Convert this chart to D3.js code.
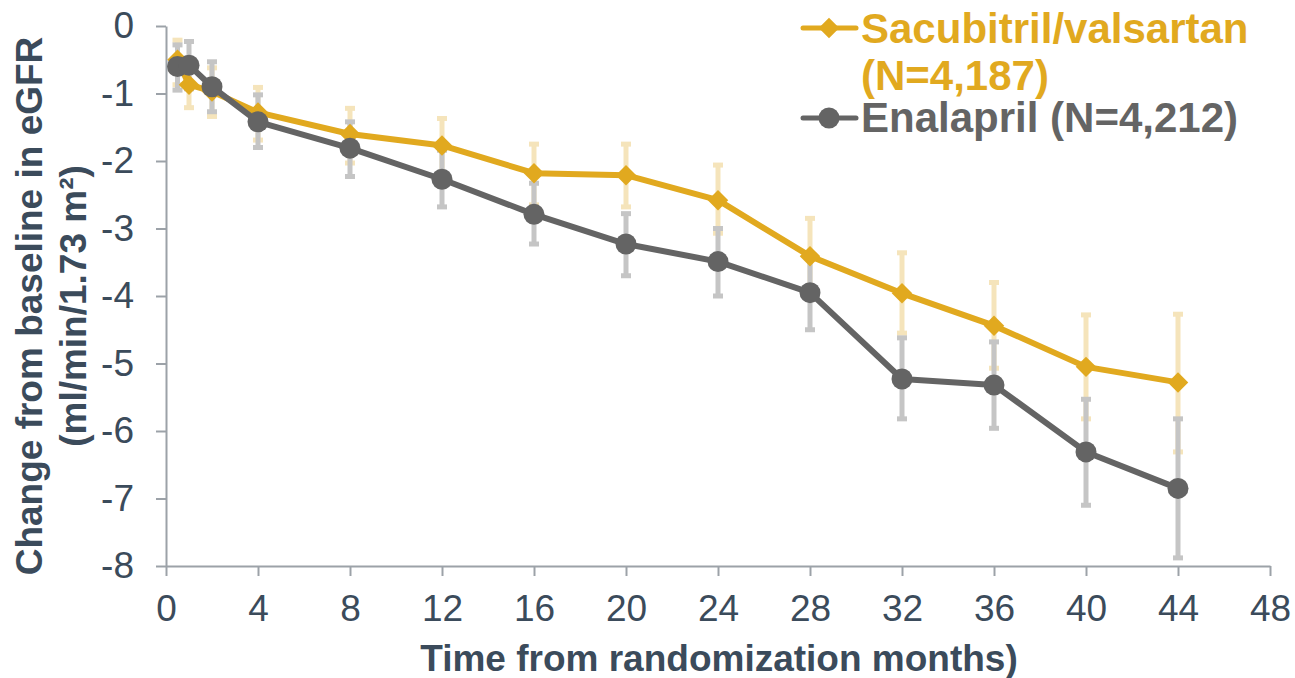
<!DOCTYPE html>
<html lang="en">
<head>
  <meta charset="UTF-8">
  <title>eGFR change over time</title>
  <style>
  body {
    margin: 0;
    background: white;
  }
  svg {
    font-family: "Liberation Sans", Arial, sans-serif;
  }
  </style>
</head>
<body>
  <svg></svg>

  <script src="https://d3js.org/d3.v7.min.js"></script>
  <script>
  // months after randomization
  var months = [0.5, 1, 2, 4, 8, 12, 16, 20, 24, 28, 32, 36, 40, 44];

  // sacubitril/valsartan: mean change and error bar ends
  var sacMean = [-0.50, -0.87, -0.97, -1.28, -1.60, -1.77, -2.18, -2.21, -2.58, -3.41, -3.96, -4.44, -5.05, -5.28];
  var sacUpper = [-0.21, -0.53, -0.62, -0.91, -1.22, -1.37, -1.75, -1.75, -2.06, -2.85, -3.36, -3.80, -4.28, -4.27];
  var sacLower = [-0.87, -1.21, -1.34, -1.69, -2.03, -2.17, -2.65, -2.68, -3.07, -3.97, -4.55, -5.07, -5.82, -6.31];

  // enalapril
  var enaMean = [-0.60, -0.58, -0.90, -1.42, -1.81, -2.27, -2.79, -3.23, -3.49, -3.95, -5.23, -5.32, -6.31, -6.85];
  var enaUpper = [-0.28, -0.23, -0.53, -1.02, -1.42, -1.84, -2.33, -2.78, -3.00, -3.40, -4.62, -4.68, -5.53, -5.82];
  var enaLower = [-0.95, -0.93, -1.27, -1.80, -2.23, -2.68, -3.23, -3.70, -4.00, -4.50, -5.82, -5.96, -7.10, -7.88];

  var xTicks = [0, 4, 8, 12, 16, 20, 24, 28, 32, 36, 40, 44, 48];
  var yTicks = [0, -1, -2, -3, -4, -5, -6, -7, -8];

  var width = 1295;
  var height = 678;
  var axisColor = "#9ca2a8";
  var textColor = "#3b4b5b";

  var series = [
    { name: "Sacubitril/valsartan", n: "(N=4,187)", mean: sacMean, upper: sacUpper, lower: sacLower,
      color: "#e1a91f", barColor: "#f5e4bb", marker: "diamond" },
    { name: "Enalapril (N=4,212)", mean: enaMean, upper: enaUpper, lower: enaLower,
      color: "#646464", barColor: "#c5c5c5", marker: "circle" }
  ];

  var xScale = d3.scaleLinear()
                .domain([0, 48])
                .range([166, 1270]);
  var yScale = d3.scaleLinear()
                .domain([-8, 0])
                .range([566, 26]);

  var svg = d3.select("svg")
        .attr("width", width)
        .attr("height", height);

  // axes
  var xAxis = svg.append("g")
      .attr("transform", "translate(0," + yScale(-8) + ")")
      .call(d3.axisBottom(xScale).tickValues(xTicks).tickSize(10).tickSizeOuter(0).tickPadding(19));
  var yAxis = svg.append("g")
      .attr("transform", "translate(" + xScale(0) + ",0)")
      .call(d3.axisLeft(yScale).tickValues(yTicks).tickSize(10).tickSizeOuter(0).tickPadding(22)
        .tickFormat(d3.format("d")));

  [xAxis, yAxis].forEach(function(ax) {
    ax.select(".domain").attr("stroke", axisColor).attr("stroke-width", 2);
    ax.selectAll(".tick line").attr("stroke", axisColor).attr("stroke-width", 2);
    ax.selectAll(".tick text")
      .attr("fill", textColor)
      .style("font-size", "37px")
      .style("font-family", "'Liberation Sans', Arial, sans-serif");
  });
  yAxis.selectAll(".tick text").text(d => d === 0 ? "0" : "-" + Math.abs(d));

  // axis titles
  svg.append("text")
      .attr("x", 719)
      .attr("y", 671)
      .attr("text-anchor", "middle")
      .attr("fill", textColor)
      .style("font-size", "37px")
      .style("font-weight", "bold")
      .text("Time from randomization months)");

  var yTitle = svg.append("g")
      .attr("fill", textColor)
      .style("font-size", "37px")
      .style("font-weight", "bold");
  yTitle.append("text")
      .attr("transform", "translate(42,306) rotate(-90)")
      .attr("text-anchor", "middle")
      .text("Change from baseline in eGFR");
  yTitle.append("text")
      .attr("transform", "translate(86,306) rotate(-90)")
      .attr("text-anchor", "middle")
      .text("(ml/min/1.73 m²)");

  // error bars first, so the lines sit on top
  series.forEach(function(s) {
    var bars = svg.append("g")
        .selectAll("g")
        .data(months.map((m, i) => ({ m: m, hi: s.upper[i], lo: s.lower[i] })))
        .enter()
        .append("g")
          .attr("stroke", s.barColor)
          .attr("stroke-width", 5);
    bars.append("line")
        .attr("x1", d => xScale(d.m))
        .attr("x2", d => xScale(d.m))
        .attr("y1", d => yScale(d.hi))
        .attr("y2", d => yScale(d.lo));
    bars.append("line")
        .attr("x1", d => xScale(d.m) - 5)
        .attr("x2", d => xScale(d.m) + 5)
        .attr("y1", d => yScale(d.hi))
        .attr("y2", d => yScale(d.hi));
    bars.append("line")
        .attr("x1", d => xScale(d.m) - 5)
        .attr("x2", d => xScale(d.m) + 5)
        .attr("y1", d => yScale(d.lo))
        .attr("y2", d => yScale(d.lo));
  });

  var line = d3.line()
      .x(d => xScale(d.m))
      .y(d => yScale(d.v));

  var diamond = d3.symbol().type(d3.symbolSquare).size(210);

  function drawMarker(sel, s) {
    if (s.marker === "diamond") {
      sel.append("path")
          .attr("d", diamond)
          .attr("transform", d => "translate(" + d.x + "," + d.y + ") rotate(45)")
          .attr("fill", s.color);
    } else {
      sel.append("circle")
          .attr("cx", d => d.x)
          .attr("cy", d => d.y)
          .attr("r", 10.5)
          .attr("fill", s.color);
    }
  }

  series.forEach(function(s) {
    var pts = months.map((m, i) => ({ m: m, v: s.mean[i] }));
    svg.append("path")
        .datum(pts)
        .attr("d", line)
        .attr("fill", "none")
        .attr("stroke", s.color)
        .attr("stroke-width", 6)
        .attr("stroke-linejoin", "round");
    var g = svg.append("g")
        .selectAll("g")
        .data(pts.map(p => ({ x: xScale(p.m), y: yScale(p.v) })))
        .enter()
        .append("g");
    drawMarker(g, s);
  });

  // legend
  var legendRows = [
    { s: series[0], y: 28, texts: [{ t: series[0].name, y: 43 }, { t: series[0].n, y: 90 }] },
    { s: series[1], y: 118, texts: [{ t: series[1].name, y: 132 }] }
  ];
  legendRows.forEach(function(r) {
    svg.append("line")
        .attr("x1", 803)
        .attr("x2", 856)
        .attr("y1", r.y)
        .attr("y2", r.y)
        .attr("stroke", r.s.color)
        .attr("stroke-width", 5)
        .attr("stroke-linecap", "round");
    var g = svg.append("g").selectAll("g").data([{ x: 829, y: r.y }]).enter().append("g");
    drawMarker(g, r.s);
    r.texts.forEach(function(t) {
      svg.append("text")
          .attr("x", 861)
          .attr("y", t.y)
          .attr("fill", r.s.color)
          .style("font-size", "42px")
          .style("font-weight", "bold")
          .text(t.t);
    });
  });
  </script>
</body>
</html>
